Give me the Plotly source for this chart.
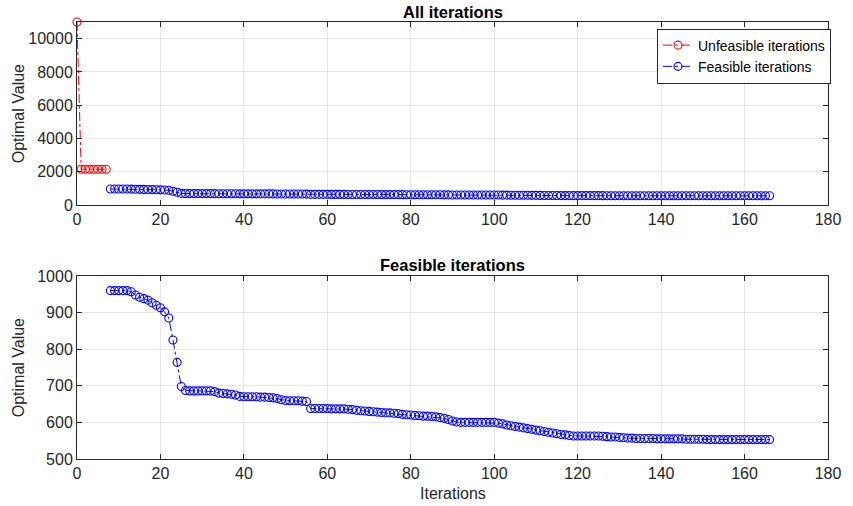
import plotly.graph_objects as go

# Optimal value per iteration: infeasible start, then feasible descent
unfeasible_iters = [0, 1, 2, 3, 4, 5, 6, 7]
unfeasible_vals = [11000, 2150, 2150, 2150, 2150, 2150, 2150, 2150]

feasible_vals = [
    960, 960, 960, 960, 960,
    957, 948, 942, 938, 934, 927, 920, 913, 902, 885,
    825, 764, 698, 687,
    686, 686, 686, 686, 686, 686,
    684, 680, 679, 678, 677, 675,
    671, 670, 670, 670, 670, 669, 669, 668, 667, 665,
    662, 660, 659, 659, 659, 658, 657,
    638, 638, 638, 638, 638, 637, 637, 637, 637, 636,
    635, 633, 632, 631, 630, 629, 628, 627, 626, 626,
    625, 624, 622, 621, 620, 619, 618, 617, 617, 616,
    615, 613, 611, 608, 604, 601,
    600, 600, 600, 600, 600, 600, 600, 600, 600,
    598, 596, 593, 591, 589, 587, 585, 583, 581, 579,
    577, 575, 573, 571, 569, 567, 566, 564,
    563, 563, 563, 563, 563, 563, 563,
    562, 561, 560, 560, 559, 558, 557, 557, 556, 556, 556, 556, 556,
    555, 555, 555, 555, 555, 555, 555,
    554, 554, 554, 554, 554,
    553, 553, 553, 553, 553, 553, 553, 553, 553, 553, 553, 553, 553, 553, 553, 553,
]
first_feasible = 8
feasible_iters = list(range(first_feasible, first_feasible + len(feasible_vals)))

RED = "#ff0000"
BLUE = "#0000ff"
AXIS = "#262626"
GRID = "#e6e6e6"
FONT = "Liberation Sans, Arial, Helvetica, sans-serif"


def series(x, y, color, name, xa, ya, legend=True):
    return go.Scatter(
        x=x, y=y, name=name, mode="lines+markers",
        line=dict(color=color, width=1, dash="dashdot"),
        marker=dict(symbol="circle-open", size=8, color=color, line=dict(width=1.1, color=color)),
        xaxis=xa, yaxis=ya, showlegend=legend, cliponaxis=False,
    )


fig = go.Figure()
fig.add_trace(series(unfeasible_iters, unfeasible_vals, RED, "Unfeasible iterations", "x", "y"))
fig.add_trace(series(feasible_iters, feasible_vals, BLUE, "Feasible iterations", "x", "y"))
fig.add_trace(series(feasible_iters, feasible_vals, BLUE, "Feasible iterations", "x2", "y2", legend=False))

axis_common = dict(
    showline=True, linecolor=AXIS, linewidth=1, mirror="ticks",
    ticks="inside", ticklen=5, tickcolor=AXIS, tickwidth=1,
    showgrid=True, gridcolor=GRID, gridwidth=1, zeroline=False,
    tickfont=dict(family=FONT, size=16, color=AXIS),
)

top_dom = [0.5812, 1.0]
bot_dom = [0.0, 0.4188]

fig.update_layout(
    width=853, height=506,
    margin=dict(l=77, r=15, t=22, b=47),
    paper_bgcolor="white", plot_bgcolor="white",
    font=dict(family=FONT, color=AXIS),
    xaxis=dict(domain=[0, 1], range=[0, 180], dtick=20, anchor="y", **axis_common),
    yaxis=dict(domain=top_dom, range=[0, 11000], tickvals=[0, 2000, 4000, 6000, 8000, 10000],
               tickformat="d", anchor="x", **axis_common),
    xaxis2=dict(domain=[0, 1], range=[0, 180], dtick=20, anchor="y2", **axis_common),
    yaxis2=dict(domain=bot_dom, range=[500, 1000], dtick=100, anchor="x2", **axis_common),
    legend=dict(
        x=1.004, y=0.985, xanchor="right", yanchor="top",
        bgcolor="white", bordercolor=AXIS, borderwidth=1,
        font=dict(family=FONT, size=14, color="#000000"),
        tracegroupgap=0, itemwidth=30,
    ),
    annotations=[
        dict(text="<b>All iterations</b>", x=0.5, y=1.023, xref="paper", yref="paper",
             showarrow=False, xanchor="center", yanchor="middle",
             font=dict(family=FONT, size=16.5, color="#000000")),
        dict(text="<b>Feasible iterations</b>", x=0.5, y=0.444, xref="paper", yref="paper",
             showarrow=False, xanchor="center", yanchor="middle",
             font=dict(family=FONT, size=16.5, color="#000000")),
        dict(text="Optimal Value", x=-0.0775, y=(top_dom[0] + top_dom[1]) / 2,
             xref="paper", yref="paper", showarrow=False, textangle=-90,
             xanchor="center", yanchor="middle", font=dict(family=FONT, size=16, color=AXIS)),
        dict(text="Optimal Value", x=-0.0775, y=(bot_dom[0] + bot_dom[1]) / 2,
             xref="paper", yref="paper", showarrow=False, textangle=-90,
             xanchor="center", yanchor="middle", font=dict(family=FONT, size=16, color=AXIS)),
        dict(text="Iterations", x=0.5, y=-0.078, xref="paper", yref="paper",
             showarrow=False, xanchor="center", yanchor="middle",
             font=dict(family=FONT, size=16, color=AXIS)),
    ],
)

fig.write_html("out.html")
